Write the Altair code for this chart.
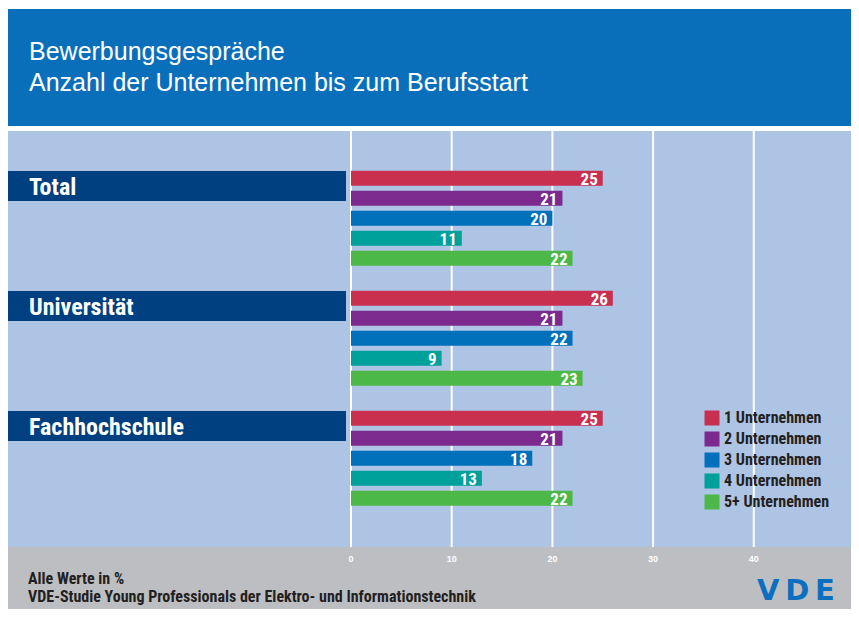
import altair as alt
import pandas as pd

# ---- data ----
groups = ["Total", "Universität", "Fachhochschule"]
series = ["1 Unternehmen", "2 Unternehmen", "3 Unternehmen", "4 Unternehmen", "5+ Unternehmen"]
total = [25, 21, 20, 11, 22]
universitaet = [26, 21, 22, 9, 23]
fachhochschule = [25, 21, 18, 13, 22]
colors = ["#c9304f", "#7d2a8e", "#0070bb", "#00a09b", "#4bb848"]
x_ticks = [0, 10, 20, 30, 40]
title_lines = ["Bewerbungsgespräche", "Anzahl der Unternehmen bis zum Berufsstart"]
footer_lines = ["Alle Werte in %", "VDE-Studie Young Professionals der Elektro- und Informationstechnik"]
logo_text = "V\u2009D\u2009E"

NARROW = "'Liberation Sans Narrow', 'Roboto Condensed', 'DejaVu Sans Condensed', sans-serif"
REG = "'Liberation Sans', Arial, sans-serif"

W, H = 843, 601

rows = []
for gi, (g, vals) in enumerate(zip(groups, [total, universitaet, fachhochschule])):
    for si, (s, v) in enumerate(zip(series, vals)):
        rows.append({"group": g, "series": s, "value": v, "pos": gi * 6 + si})
df = pd.DataFrame(rows)
gdf = pd.DataFrame({"group": groups, "pos": [i * 6 for i in range(len(groups))]})
gdf["top"] = gdf["pos"] - 0.365
gdf["bottom"] = gdf["pos"] + 1.135
gdf["lab"] = gdf["pos"] + 0.845
tdf = pd.DataFrame({"tick": x_ticks})
one = pd.DataFrame({"d": [0]})

xs = alt.Scale(domain=[0, 50], range=[343, 846.5], nice=False, zero=False, padding=0)
ys = alt.Scale(domain=[0, 17], range=[170.3, 510.3], nice=False, zero=False, padding=0)

header = alt.Chart(one).mark_rect(color="#0a6fbb").encode(
    x=alt.value(0), x2=alt.value(W), y=alt.value(1), y2=alt.value(118))
plotbg = alt.Chart(one).mark_rect(color="#aec4e4").encode(
    x=alt.value(0), x2=alt.value(W), y=alt.value(123), y2=alt.value(539))
footer = alt.Chart(one).mark_rect(color="#bdbec2").encode(
    x=alt.value(0), x2=alt.value(W), y=alt.value(539), y2=alt.value(H))

grid = alt.Chart(tdf).mark_rule(color="white", strokeWidth=2).encode(
    x=alt.X("tick:Q", scale=xs, axis=None), y=alt.value(123), y2=alt.value(539))
ticklab = alt.Chart(tdf).mark_text(color="white", fontSize=9, fontWeight="bold", font=REG,
                                   baseline="middle").encode(
    x=alt.X("tick:Q", scale=xs, axis=None), y=alt.value(551), text="tick:Q")

gbox = alt.Chart(gdf).mark_rect(color="#003f80").encode(
    x=alt.value(0), x2=alt.value(338),
    y=alt.Y("top:Q", scale=ys, axis=None), y2="bottom:Q")
glab = alt.Chart(gdf).mark_text(color="white", fontSize=24, fontWeight="bold", font=NARROW,
                                align="left", baseline="alphabetic").encode(
    x=alt.value(21), y=alt.Y("lab:Q", scale=ys, axis=None), text="group:N")

bars = alt.Chart(df).mark_bar(orient="horizontal", size=15).encode(
    x=alt.X("value:Q", scale=xs, axis=None),
    y=alt.Y("pos:Q", scale=ys, axis=None),
    color=alt.Color("series:N", scale=alt.Scale(domain=series, range=colors),
                    legend=alt.Legend(title=None, orient="none", legendX=696, legendY=402,
                                      symbolType="square", symbolSize=225,
                                      symbolStrokeWidth=0, symbolOpacity=1,
                                      labelFont=NARROW, labelFontSize=16,
                                      labelFontWeight="bold", labelColor="#231f20",
                                      rowPadding=5, labelOffset=4, padding=0,
                                      labelLimit=300)))
vals = alt.Chart(df).mark_text(color="white", fontSize=17, fontWeight="bold", font=NARROW,
                               align="right", baseline="alphabetic", dx=-5, dy=6.5).encode(
    x=alt.X("value:Q", scale=xs, axis=None),
    y=alt.Y("pos:Q", scale=ys, axis=None), text="value:Q")

title = alt.Chart(one).mark_text(text=title_lines, lineHeight=30.7, color="white", fontSize=25,
                                 font=REG, align="left", baseline="alphabetic").encode(
    x=alt.value(21), y=alt.value(52))
foot = alt.Chart(one).mark_text(text=footer_lines, lineHeight=18, color="#231f20", fontSize=16,
                                fontWeight="bold", font=NARROW, align="left",
                                baseline="alphabetic").encode(
    x=alt.value(20), y=alt.value(576))
logo = alt.Chart(one).mark_text(text=logo_text, color="#0b6fbf", fontSize=29, fontWeight="bold",
                                font="'DejaVu Sans', sans-serif", align="left",
                                baseline="alphabetic").encode(
    x=alt.value(749), y=alt.value(592))

chart = alt.layer(header, plotbg, footer, grid, ticklab, gbox, glab, bars, vals, title, foot, logo
                  ).properties(width=W, height=H, autosize=alt.AutoSizeParams(type="none"),
                               padding=0, background="white"
                  ).configure_view(stroke=None)

chart.save("out.html", embed_options={"renderer": "svg", "actions": False})
